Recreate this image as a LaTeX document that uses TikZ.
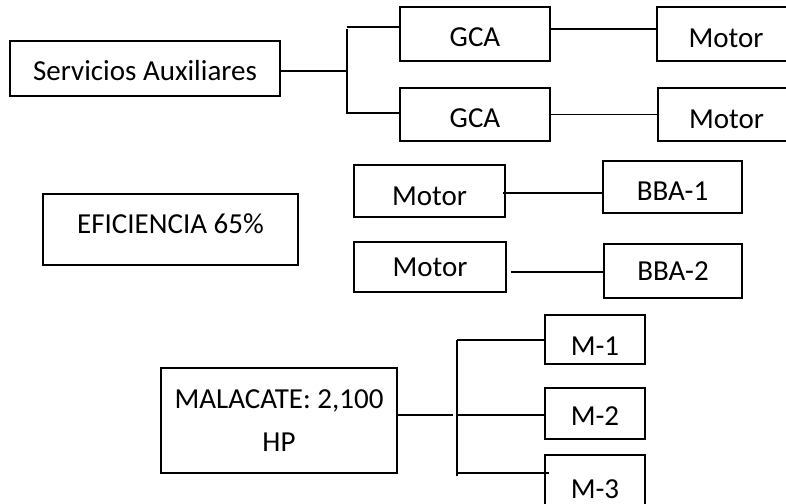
\documentclass[tikz,border=0pt]{standalone}
\usepackage{fontspec}
\setmainfont{Carlito}
\begin{document}
\begin{tikzpicture}[x=1pt,y=-1pt,
  box/.style={draw, line width=1.8pt, inner sep=0pt, text depth=0pt,
    font=\fontsize{29}{35}\selectfont},
  th/.style={text height=#1pt},
  wire/.style={line width=1.8pt}]
\useasboundingbox (0,0) rectangle (786,503);
\clip (0,0) rectangle (786,503);
% top group
\node[box, th=23.3, minimum width=270pt, minimum height=55pt] (serv) at (145,68.5) {Servicios Auxiliares};
\node[box, th=25.3, minimum width=150pt, minimum height=54pt] (gca1) at (475,34) {GCA};
\node[box, th=26.3, minimum width=150pt, minimum height=53pt] (gca2) at (475,114.5) {GCA};
\node[box, th=27.3, minimum width=138pt, minimum height=54pt] (mot1) at (726,34) {Motor};
\node[box, th=27.3, minimum width=137pt, minimum height=53pt] (mot2) at (726.5,114.5) {Motor};
% efficiency
\node[box, th=7.3, minimum width=255pt, minimum height=71pt] (efi) at (170.5,229.5) {EFICIENCIA 65\%};
% pumps
\node[box, th=28.3, minimum width=151pt, minimum height=52pt] (motA) at (429.5,191) {Motor};
\node[box, th=26.3, minimum width=139pt, minimum height=52pt] (bba1) at (672.5,187) {BBA-1};
\node[box, th=18.3, minimum width=152pt, minimum height=50pt] (motB) at (430,267) {Motor};
\node[box, th=18.3, minimum width=138pt, minimum height=54pt] (bba2) at (673,271) {BBA-2};
% hoist
\node[draw, line width=1.8pt, inner sep=0pt, align=center,
  font=\fontsize{29}{43}\selectfont,
  minimum width=236pt, minimum height=105pt] (mal) at (279,420.5) {MALACATE: 2,100\\HP};
\node[box, th=31.3, minimum width=100pt, minimum height=49pt] (m1) at (595,339.5) {M-1};
\node[box, th=23.3, minimum width=100pt, minimum height=51pt] (m2) at (595,413.5) {M-2};
\node[box, th=37.3, minimum width=100pt, minimum height=50pt] (m3) at (595,480) {M-3};
% connectors top
\coordinate (js) at (347,71);
\coordinate (j1) at (347,27);
\coordinate (j2) at (347,113);
\draw[wire] ([yshift=-2.5pt]serv.east) -- (js);
\draw[wire] (347,29) -- (347,114);
\draw[wire] (j1) -- (j1 -| gca1.west);
\draw[wire] (j2) -- (j2 -| gca2.west);
\draw[wire] ([yshift=5pt]gca1.east) -- ([yshift=5pt]mot1.west);
\draw[wire] (gca2.east) -- (mot2.west);
% connectors pumps
\draw[wire] ([xshift=-3pt,yshift=-2pt]motA.east) -- ([yshift=-6pt]bba1.west);
\draw[wire] ([xshift=4pt,yshift=-5pt]motB.east) -- ([yshift=-1pt]bba2.west);
% connectors hoist
\coordinate (jm) at (453,415);
\coordinate (k1) at (457,340);
\coordinate (k2) at (457,415);
\coordinate (k3) at (457,473);
\draw[wire] ([yshift=5.5pt]mal.east) -- (jm);
\draw[wire] (457,340) -- (457,476);
\draw[wire] (k1) -- (k1 -| m1.west);
\draw[wire] (k2) -- ([xshift=2pt]k2 -| m2.west);
\draw[wire] (k3) -- ([xshift=5pt]k3 -| m3.west);
\end{tikzpicture}
\end{document}
